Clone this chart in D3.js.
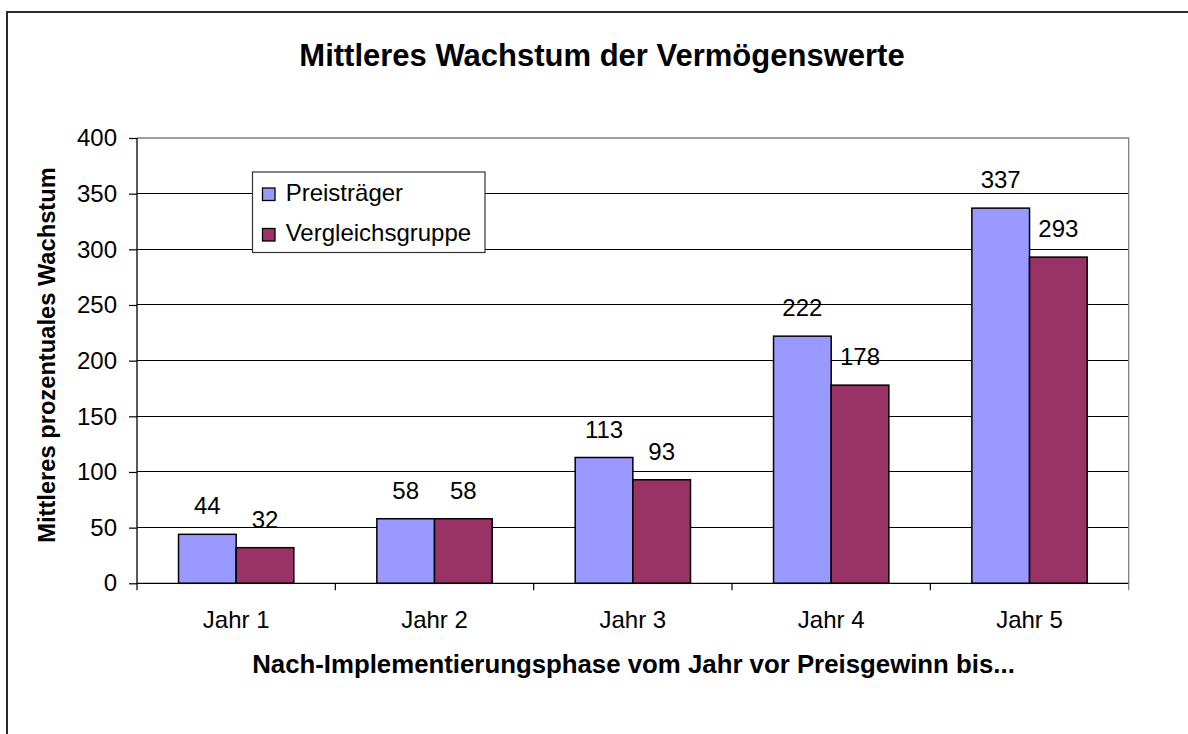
<!DOCTYPE html>
<html>
<head>
<meta charset="utf-8">
<script src="https://cdn.jsdelivr.net/npm/d3@7"></script>
<style>
  html, body { margin: 0; padding: 0; background: #fff; overflow: hidden; }
  svg { display: block; font-family: "Liberation Sans", Arial, sans-serif; }
</style>
</head>
<body>
<svg id="chart" width="1188" height="734"></svg>
<script>
const categories = ["Jahr 1", "Jahr 2", "Jahr 3", "Jahr 4", "Jahr 5"];
const seriesNames = ["Preisträger", "Vergleichsgruppe"];
const preistraeger = [44, 58, 113, 222, 337];
const vergleichsgruppe = [32, 58, 93, 178, 293];
const yTicks = [0, 50, 100, 150, 200, 250, 300, 350, 400];
const colors = ["#9999FF", "#993366"];
const titleText = "Mittleres Wachstum der Vermögenswerte";
const yTitleText = "Mittleres prozentuales Wachstum";
const xTitleText = "Nach-Implementierungsphase vom Jahr vor Preisgewinn bis...";

const seriesValues = [preistraeger, vergleichsgruppe];
const data = categories.map((c, i) => ({
  cat: c,
  vals: seriesNames.map((s, j) => ({ s, j, v: seriesValues[j][i] }))
}));

const svg = d3.select("#chart");
const L = 137, R = 1128.7, T = 138, B = 583.3;

// outer frame (only top and left edges fall inside the picture)
svg.append("path").attr("d", "M7,800V12H1200")
  .attr("fill", "none").attr("stroke", "#2b2b2b").attr("stroke-width", 2);

const x0 = d3.scaleBand().domain(categories).range([L, R]).paddingInner(0).paddingOuter(0);
const x1 = d3.scaleBand().domain(seriesNames).range([0, x0.bandwidth()]).paddingInner(0).paddingOuter(0.72);
const y = d3.scaleLinear().domain([0, 400]).range([B, T]);

// gridlines
svg.append("g").selectAll("line").data(yTicks.filter(t => t > 0 && t < 400)).join("line")
  .attr("x1", L).attr("x2", R).attr("y1", d => y(d)).attr("y2", d => y(d))
  .attr("stroke", "#000").attr("stroke-width", 1).attr("shape-rendering", "crispEdges");

// plot border top & right (gray)
svg.append("path").attr("d", `M${L},${y(400)}H${R}V${B}`)
  .attr("fill", "none").attr("stroke", "#808080").attr("stroke-width", 1.3);

// bars
const groups = svg.append("g").selectAll("g").data(data).join("g")
  .attr("transform", d => `translate(${x0(d.cat)},0)`);
groups.selectAll("rect").data(d => d.vals).join("rect")
  .attr("x", d => x1(d.s)).attr("width", x1.bandwidth())
  .attr("y", d => y(d.v)).attr("height", d => y(0) - y(d.v))
  .attr("fill", d => colors[d.j]).attr("stroke", "#000").attr("stroke-width", 1.5);

// data labels
groups.selectAll("text").data(d => d.vals).join("text")
  .attr("x", d => x1(d.s) + x1.bandwidth() / 2)
  .attr("y", d => y(d.v) - 20)
  .attr("text-anchor", "middle").attr("font-size", 24).attr("fill", "#000")
  .text(d => d.v);

// y axis
const yAxis = d3.axisLeft(y).tickValues(yTicks).tickSize(8).tickPadding(12);
const gy = svg.append("g").attr("transform", `translate(${L},0)`).call(yAxis);
gy.select(".domain").attr("stroke", "#000").attr("stroke-width", 1.3).attr("d", `M0,${y(400)}V${B}`);
gy.selectAll(".tick line").attr("stroke", "#000").attr("stroke-width", 1.2);
gy.selectAll(".tick text").attr("font-size", 24).attr("fill", "#000")
  .attr("font-family", "Liberation Sans, Arial, sans-serif");

// x axis: ticks at category boundaries
const bounds = categories.map(c => x0(c)).concat([R]);
const gx = svg.append("g");
gx.append("line").attr("x1", L).attr("x2", R).attr("y1", B).attr("y2", B)
  .attr("stroke", "#000").attr("stroke-width", 1.3);
gx.selectAll("line.tk").data(bounds).join("line").attr("class", "tk")
  .attr("x1", d => d).attr("x2", d => d).attr("y1", B).attr("y2", B + 7)
  .attr("stroke", (d, i) => i === bounds.length - 1 ? "#808080" : "#000").attr("stroke-width", 1.2);
gx.selectAll("text").data(categories).join("text")
  .attr("x", d => x0(d) + x0.bandwidth() / 2).attr("y", 628.3)
  .attr("text-anchor", "middle").attr("font-size", 24).attr("fill", "#000")
  .text(d => d);

// titles
svg.append("text").attr("x", 602).attr("y", 65.7).attr("text-anchor", "middle")
  .attr("font-size", 31).attr("font-weight", "bold").text(titleText);
svg.append("text").attr("transform", `translate(55,355) rotate(-90)`).attr("text-anchor", "middle")
  .attr("font-size", 23.7).attr("font-weight", "bold").text(yTitleText);
svg.append("text").attr("x", 633.5).attr("y", 673.3).attr("text-anchor", "middle")
  .attr("font-size", 25.8).attr("font-weight", "bold").text(xTitleText);

// legend
const lg = svg.append("g");
lg.append("rect").attr("x", 252.5).attr("y", 172).attr("width", 232.5).attr("height", 80.5)
  .attr("fill", "#fff").attr("stroke", "#333").attr("stroke-width", 1.2);
const items = lg.selectAll("g").data(seriesNames).join("g")
  .attr("transform", (d, i) => `translate(0,${i * 40.5})`);
items.append("rect").attr("x", 262.5).attr("y", 188).attr("width", 12.5).attr("height", 12.5)
  .attr("fill", (d, i) => colors[i]).attr("stroke", "#000").attr("stroke-width", 1.3);
items.append("text").attr("x", 285.7).attr("y", 200.7).attr("font-size", 24).attr("fill", "#000")
  .text(d => d);
</script>
</body>
</html>
